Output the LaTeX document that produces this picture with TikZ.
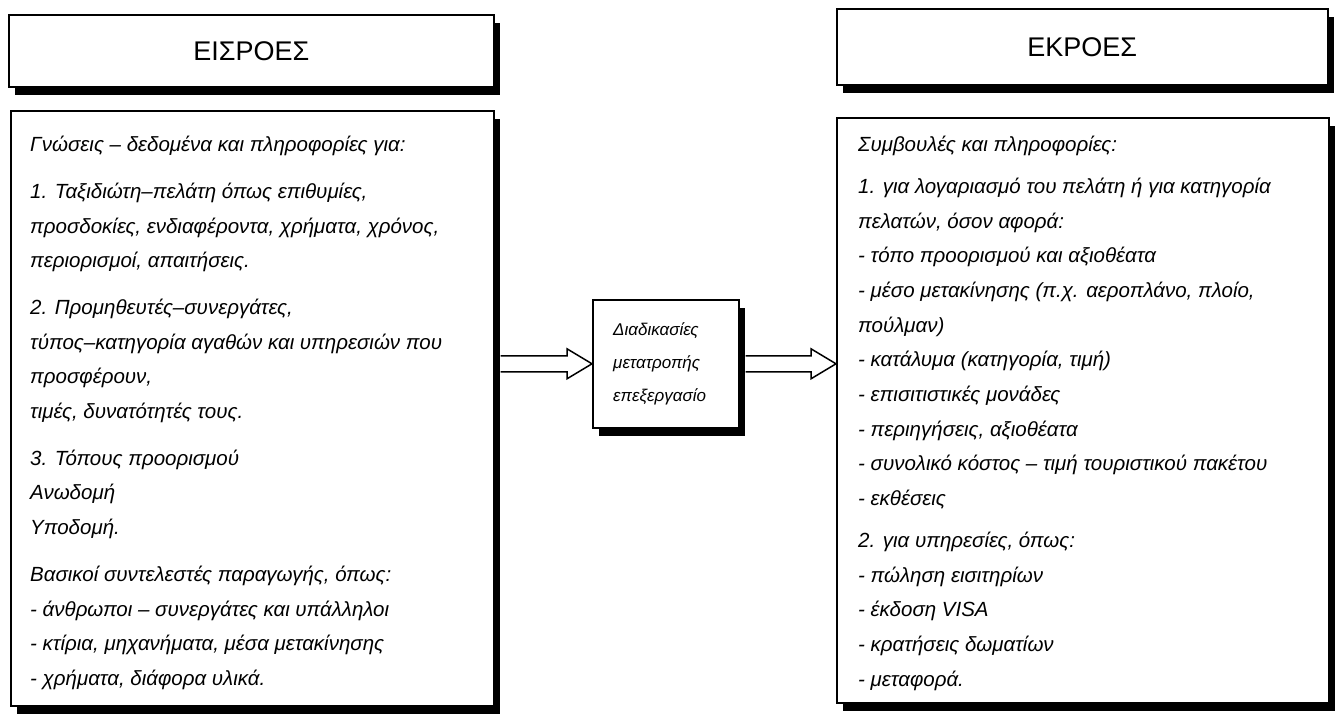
\documentclass[tikz,border=0pt]{standalone}
\usepackage{fontspec}
\setmainfont{Liberation Sans}
\usetikzlibrary{calc,shadows}
\begin{document}
\begin{tikzpicture}[x=1pt,y=-1pt,
  panel/.style={draw=black, line width=1.6pt, fill=white, rectangle,
    inner sep=0pt, anchor=north west,
    drop shadow={shadow xshift=6pt, shadow yshift=-8pt, opacity=1, fill=black}},
  title/.style={font=\fontsize{27}{30}\selectfont},
  body/.style={anchor=north west, inner sep=0pt, align=left,
    font=\fontsize{20.5}{34.7}\selectfont\itshape},
  midtext/.style={anchor=north west, inner sep=0pt, align=left,
    font=\fontsize{17}{33}\selectfont\itshape},
  hollow/.style={draw=black, line width=1.5pt, fill=white, line join=miter}
]
\useasboundingbox (0,0) rectangle (1339,715);

% input side
\node[panel, minimum width=485pt, minimum height=72pt] (intitle) at (8,14) {};
\node[title] (intitletext) at (intitle.center) {ΕΙΣΡΟΕΣ};
\node[panel, minimum width=483pt, minimum height=595pt] (inbox) at (10,110) {};
\node[body] (intext) at ($(inbox.north west)+(20,26)$) {%
Γνώσεις – δεδομένα και πληροφορίες για:\\[12pt]
1. Ταξιδιώτη–πελάτη όπως επιθυμίες,\\
προσδοκίες, ενδιαφέροντα, χρήματα, χρόνος,\\
περιορισμοί, απαιτήσεις.\\[12pt]
2. Προμηθευτές–συνεργάτες,\\
τύπος–κατηγορία αγαθών και υπηρεσιών που\\
προσφέρουν,\\
τιμές, δυνατότητές τους.\\[12pt]
3. Τόπους προορισμού\\
Ανωδομή\\
Υποδομή.\\[12pt]
Βασικοί συντελεστές παραγωγής, όπως:\\
- άνθρωποι – συνεργάτες και υπάλληλοι\\
- κτίρια, μηχανήματα, μέσα μετακίνησης\\
- χρήματα, διάφορα υλικά.};

% processing
\node[panel, minimum width=146pt, minimum height=128pt] (mid) at (592,299) {};
\node[midtext] (midlabel) at ($(mid.north west)+(21,23)$) {%
Διαδικασίες\\
μετατροπής\\
επεξεργασίο};

% output side
\node[panel, minimum width=491pt, minimum height=76pt] (outtitle) at (836,8) {};
\node[title] (outtitletext) at (outtitle.center) {ΕΚΡΟΕΣ};
\node[panel, minimum width=492pt, minimum height=585pt] (outbox) at (836,117) {};
\node[body] (outtext) at ($(outbox.north west)+(22,19)$) {%
Συμβουλές και πληροφορίες:\\[7pt]
1. για λογαριασμό του πελάτη ή για κατηγορία\\
πελατών, όσον αφορά:\\
- τόπο προορισμού και αξιοθέατα\\
- μέσο μετακίνησης (π.χ. αεροπλάνο, πλοίο,\\
πούλμαν)\\
- κατάλυμα (κατηγορία, τιμή)\\
- επισιτιστικές μονάδες\\
- περιηγήσεις, αξιοθέατα\\
- συνολικό κόστος – τιμή τουριστικού πακέτου\\
- εκθέσεις\\[7pt]
2. για υπηρεσίες, όπως:\\
- πώληση εισιτηρίων\\
- έκδοση VISA\\
- κρατήσεις δωματίων\\
- μεταφορά.};

% hollow block arrows
\coordinate (a1s) at ($(inbox.east |- mid.west)+(6,0)$);
\coordinate (a1e) at (mid.west);
\coordinate (a2s) at ($(mid.east)+(6,0)$);
\coordinate (a2e) at (outbox.west |- mid.east);
\foreach \s/\e in {a1s/a1e, a2s/a2e}{
  \draw[hollow] ($(\s)+(0,-8)$) -- ($(\e)+(-25,-8)$) -- ($(\e)+(-25,-15)$)
    -- (\e) -- ($(\e)+(-25,15)$) -- ($(\e)+(-25,8)$) -- ($(\s)+(0,8)$);
}
\end{tikzpicture}
\end{document}
